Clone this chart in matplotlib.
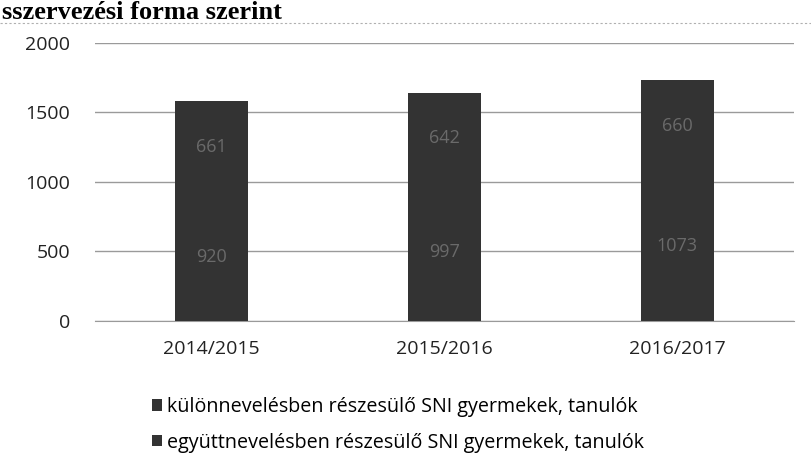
import matplotlib.pyplot as plt
import numpy as np

years = ['2014/2015', '2015/2016', '2016/2017']
egyutt = [920, 997, 1073]
kulon = [661, 642, 660]
series_names = ['különnevelésben részesülő SNI gyermekek, tanulók',
                'együttnevelésben részesülő SNI gyermekek, tanulók']

plt.rcParams['font.family'] = ['Open Sans', 'DejaVu Sans']

fig = plt.figure(figsize=(8.11, 4.70), dpi=100)
ax = fig.add_axes([0.117, 0.317, 0.862, 0.592])

x = np.arange(len(years))
w = 0.31
b1 = ax.bar(x, egyutt, w, color='#333333', zorder=3)
b2 = ax.bar(x, kulon, w, bottom=egyutt, color='#333333', zorder=3)

for i in range(len(years)):
    ax.text(x[i], egyutt[i] / 2, str(egyutt[i]), ha='center', va='center',
            fontsize=13, color='#6a6a6a', zorder=4)
    ax.text(x[i], egyutt[i] + kulon[i] / 2, str(kulon[i]), ha='center', va='center',
            fontsize=13, color='#6a6a6a', zorder=4)

ax.set_xlim(-0.5, 2.5)
ax.set_ylim(0, 2000)
ax.set_yticks([0, 500, 1000, 1500, 2000])
ax.yaxis.grid(True, color='#9a9a9a', linewidth=1)
ax.set_axisbelow(True)
for s in ['top', 'right', 'left']:
    ax.spines[s].set_visible(False)
ax.spines['bottom'].set_color('#9a9a9a')
ax.tick_params(axis='both', length=0, labelsize=14, colors='#222222')
ax.tick_params(axis='x', pad=14)
ax.tick_params(axis='y', pad=18)
ax.set_xticks(x)
ax.set_xticklabels(years)

ax.legend([b2, b1], series_names, loc='upper left', bbox_to_anchor=(0.07, -0.245),
          frameon=False, fontsize=14.2, handlelength=0.5, handleheight=0.5,
          handletextpad=0.3, labelspacing=0.8, borderaxespad=0)

fig.text(0.002, 1 - 19 / 470, 'sszervezési forma szerint', fontsize=19, fontweight='bold',
         family='Liberation Serif', ha='left', va='baseline')
fig.add_artist(plt.Line2D([0, 1], [1 - 23 / 470, 1 - 23 / 470], color='#b0b0b0', linewidth=0.8,
                          linestyle=(0, (2, 2)), transform=fig.transFigure))

fig.savefig('out.png', dpi=100)
